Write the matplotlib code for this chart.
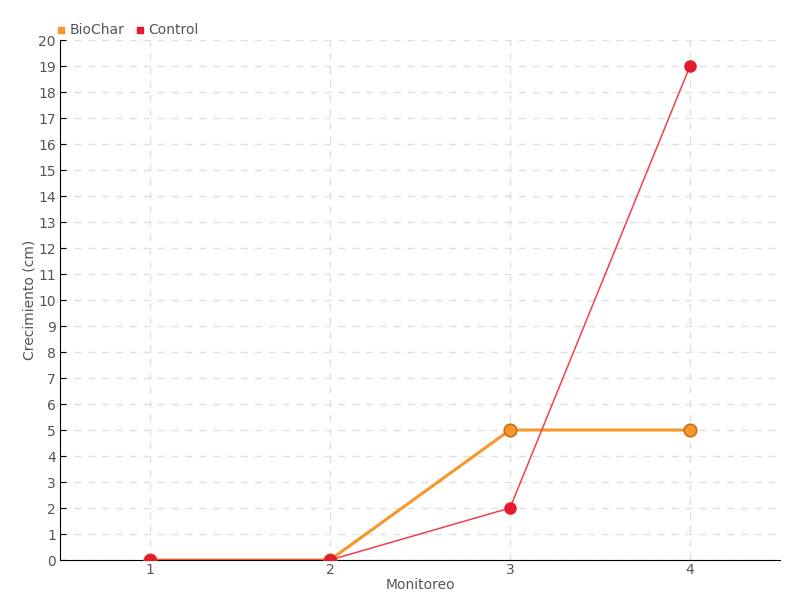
import matplotlib
matplotlib.use("Agg")
import matplotlib.pyplot as plt
from matplotlib.lines import Line2D

plt.rcParams['font.family'] = ['DejaVu Sans']

monitoreo = [1, 2, 3, 4]
biochar = [0, 0, 5, 5]
control = [0, 0, 2, 19]
yticks = list(range(0, 21))

fig = plt.figure(figsize=(8, 6), dpi=100)
ax = fig.add_axes([60/800, 40/600, 720/800, 520/600])

orange = '#f7962b'
red = '#e8192c'
ax.plot(monitoreo, biochar, color=orange, lw=2.2, marker='o', ms=9,
        mfc=orange, mec='#c8701a', mew=1.2, zorder=3)
ax.plot(monitoreo, control, color='#f0404f', lw=1.1, marker='o', ms=8,
        mfc=red, mec=red, zorder=4)

ax.set_xlim(0.5, 4.5)
ax.set_ylim(0, 20)
ax.set_xticks(monitoreo)
ax.set_yticks(yticks)
ax.grid(True, color='#e0e0e0', ls=(0, (5, 5)), lw=1)
ax.set_axisbelow(True)
for s in ['top', 'right']:
    ax.spines[s].set_visible(False)
ax.spines['left'].set_color('black')
ax.spines['bottom'].set_color('black')
ax.tick_params(axis='y', length=4, colors='#555555', labelsize=10, direction='in', pad=3)
ax.tick_params(axis='x', length=0, colors='#555555', labelsize=10, pad=2)
ax.tick_params(axis='both', color='black')
ax.set_xlabel('Monitoreo', color='#555555', fontsize=10, labelpad=1)
ax.set_ylabel('Crecimiento (cm)', color='#555555', fontsize=10, labelpad=1)

handles = [Line2D([], [], ls='none', marker='s', ms=5, color=orange, label='BioChar'),
           Line2D([], [], ls='none', marker='s', ms=5, color=red, label='Control')]
fig.legend(handles=handles, loc='upper left', bbox_to_anchor=(42/800, 1 - 11/600),
           ncol=2, frameon=False, fontsize=10, handletextpad=0.1,
           columnspacing=0.6, labelcolor='#555555', handlelength=1)

fig.savefig('out.png', dpi=100)
